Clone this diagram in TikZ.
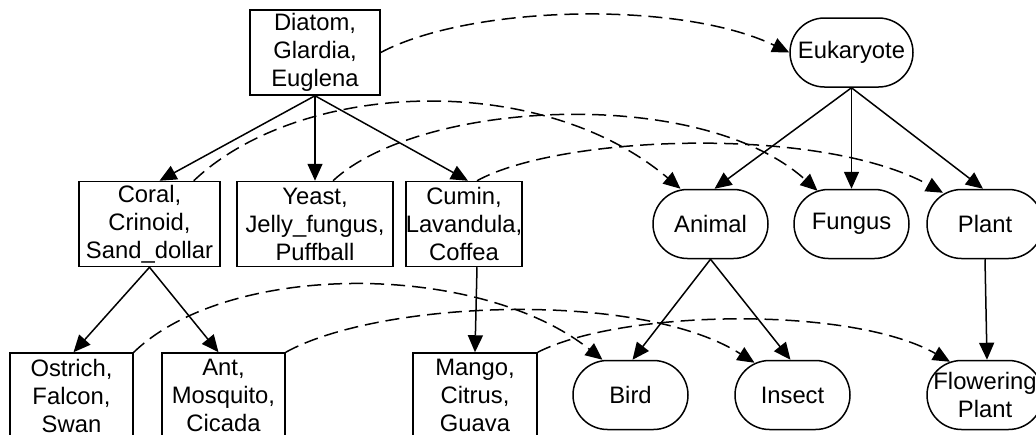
\documentclass[tikz,border=0pt]{standalone}
\usepackage{fontspec}
\setmainfont{Liberation Sans}
\usetikzlibrary{arrows.meta}
\begin{document}
\begin{tikzpicture}[x=1pt,y=-1pt,
  every node/.style={font=\fontsize{23.8pt}{28pt}\selectfont, align=center,
    inner sep=0pt, line width=1.5pt},
  box/.style={draw, rectangle, minimum height=85pt},
  oval/.style={draw, rectangle, rounded corners=34.5pt, minimum height=69pt},
  tree/.style={line width=1.5pt, -{Triangle[length=17pt,width=15pt]}},
  link/.style={tree, dash pattern=on 14pt off 7pt}]
\useasboundingbox (0,0) rectangle (1036,434);
\clip (0,0) rectangle (1036,434);

% organism groups
\node[box, minimum width=130pt] (diatom) at (315,52.5) {Diatom,\\Glardia,\\Euglena};
\node[box, minimum width=141pt] (coral) at (149.5,224) {Coral,\\Crinoid,\\Sand\_dollar};
\node[box, minimum width=156pt] (yeast) at (315,224) {Yeast,\\Jelly\_fungus,\\Puffball};
\node[box, minimum width=108pt] (cumin) at (464,224) {Cumin,\\Lavandula,\\Coffea};
\node[box, minimum width=123pt] (ostrich) at (71.5,395.5) {Ostrich,\\Falcon,\\Swan};
\node[box, minimum width=123pt] (ant) at (223.5,395.5) {Ant,\\Mosquito,\\Cicada};
\node[box, minimum width=124pt] (mango) at (475,395.5) {Mango,\\Citrus,\\Guava};

% taxonomy
\node[oval, minimum width=123pt] (eukaryote) at (851.5,52.5) {Eukaryote};
\node[oval, minimum width=115pt] (animal) at (710.5,224) {Animal};
\node[oval, minimum width=115pt] (fungus) at (851.5,224) {Fungus};
\node[oval, minimum width=116pt] (plant) at (985,224) {Plant};
\node[oval, minimum width=115pt] (bird) at (630.5,395) {Bird};
\node[oval, minimum width=115pt] (insect) at (792.5,395) {Insect};
\node[oval, minimum width=116pt] (flowering) at (985,395) {Flowering\\Plant};

% tree edges
\draw[tree] (diatom.south) -- ([xshift=10pt]coral.north);
\draw[tree] (diatom.south) -- (yeast.north);
\draw[tree] (diatom.south) -- ([xshift=4pt]cumin.north);
\draw[tree] (coral.south) -- ([xshift=2pt]ostrich.north);
\draw[tree] (coral.south) -- ([xshift=-5pt]ant.north);
\draw[tree] ([xshift=13pt]cumin.south) -- (mango.north);
\draw[tree] (eukaryote.south) -- ([xshift=4pt]animal.north);
\draw[tree] (eukaryote.south) -- (fungus.north);
\draw[tree] (eukaryote.south) -- ([xshift=-2pt]plant.north);
\draw[tree] (animal.south) -- ([xshift=2pt]bird.north);
\draw[tree] (animal.south) -- ([xshift=-2pt]insect.north);
\draw[tree] (plant.south) -- ([xshift=2pt]flowering.north);

% mapping links
\draw[link] (diatom.east) .. controls (470,5) and (680,0) .. (eukaryote.west);
\draw[link] ([xshift=-27pt]coral.north east) .. controls (300,80) and (540,70) .. ([xshift=-30pt]animal.north);
\draw[link] ([xshift=18pt]yeast.north) .. controls (420,100) and (700,85) .. ([xshift=-34pt,yshift=-2pt]fungus.north);
\draw[link] ([xshift=13pt]cumin.north) .. controls (560,135) and (820,125) .. ([xshift=-42pt,yshift=-4pt]plant.north);
\draw[link] (ostrich.north east) .. controls (230,260) and (480,262) .. ([xshift=-28pt]bird.north);
\draw[link] (ant.north east) .. controls (380,300) and (640,290) .. ([xshift=-38pt,yshift=-3pt]insect.north);
\draw[link] (mango.north east) .. controls (620,310) and (850,305) .. ([xshift=-35pt,yshift=-2pt]flowering.north);
\end{tikzpicture}
\end{document}
